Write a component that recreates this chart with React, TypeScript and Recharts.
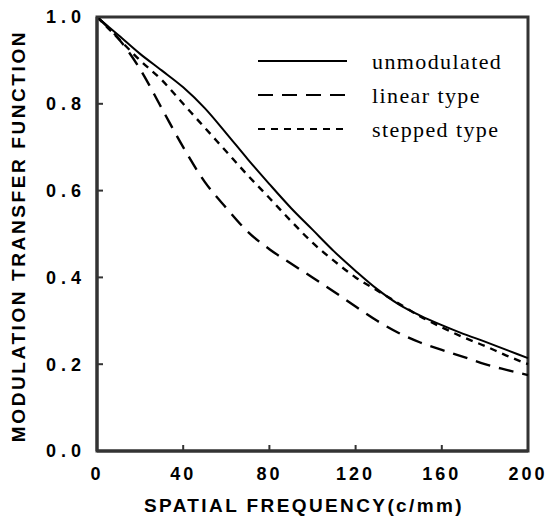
import { LineChart, Line, XAxis, YAxis, Legend, ReferenceArea } from 'recharts';

const freq = [0, 10, 20, 30, 40, 50, 60, 70, 80, 90, 100, 110, 120, 130, 140, 150, 160, 170, 180, 190, 200];
const unmodulated = [1.0, 0.958, 0.915, 0.877, 0.838, 0.79, 0.732, 0.672, 0.615, 0.56, 0.51, 0.46, 0.415, 0.373, 0.338, 0.312, 0.29, 0.27, 0.252, 0.233, 0.214];
const linearType = [1.0, 0.95, 0.88, 0.79, 0.7, 0.62, 0.56, 0.505, 0.465, 0.432, 0.4, 0.367, 0.333, 0.3, 0.272, 0.25, 0.233, 0.217, 0.2, 0.187, 0.175];
const steppedType = [1.0, 0.95, 0.9, 0.855, 0.8, 0.745, 0.69, 0.635, 0.583, 0.53, 0.48, 0.438, 0.4, 0.37, 0.34, 0.31, 0.285, 0.262, 0.242, 0.22, 0.2];

const xTicks = [0, 40, 80, 120, 160, 200];
const yTicks = [0, 0.2, 0.4, 0.6, 0.8, 1.0];

const xTitle = 'SPATIAL FREQUENCY(c/mm)';
const yTitle = 'MODULATION TRANSFER FUNCTION';

const seriesInfo = [
  { key: 'unmodulated', name: 'unmodulated', dash: undefined as string | undefined },
  { key: 'linear', name: 'linear type', dash: '15 9' },
  { key: 'stepped', name: 'stepped type', dash: '7 6' },
];

const data = freq.map((f, i) => ({
  f,
  unmodulated: unmodulated[i],
  linear: linearType[i],
  stepped: steppedType[i],
}));

// frame / tick colour: dark grey (pure black frame did not show up in earlier renders)
const INK = '#333';
const TICK = 6;
const X_GAP = 16;
const Y_GAP = 11;

const tickFont = {
  fontFamily: '"Liberation Sans", Arial, sans-serif',
  fontSize: 18,
  fontWeight: 'bold' as const,
  fill: '#000',
};

const titleFont = {
  fontFamily: '"Liberation Sans", Arial, sans-serif',
  fontSize: 19,
  fontWeight: 'bold' as const,
  fill: '#000',
};

// tick label plus the inward tick mark
const BottomTick = (props: any) => {
  const { x, y, payload } = props;
  const base = y - X_GAP;
  return (
    <g>
      <path d={`M${x},${base}L${x},${base - TICK}`} fill="none" stroke={INK} strokeWidth={2} />
      <text x={x} y={y} dy="0.71em" textAnchor="middle" {...tickFont} letterSpacing={3}>{String(payload.value)}</text>
    </g>
  );
};

const LeftTick = (props: any) => {
  const { x, y, payload } = props;
  const base = x + Y_GAP;
  return (
    <g>
      <path d={`M${base},${y}L${base + TICK},${y}`} fill="none" stroke={INK} strokeWidth={2} />
      <text x={x} y={y} dy="0.355em" textAnchor="end" {...tickFont} letterSpacing={5}>{Number(payload.value).toFixed(1)}</text>
    </g>
  );
};

const TopTick = (props: any) => {
  const { x, y } = props;
  return <path d={`M${x},${y}L${x},${y + TICK}`} fill="none" stroke={INK} strokeWidth={2} />;
};

const RightTick = (props: any) => {
  const { x, y } = props;
  return <path d={`M${x},${y}L${x - TICK},${y}`} fill="none" stroke={INK} strokeWidth={2} />;
};

const LegendBox = () => (
  <svg width={260} height={100}>
    {seriesInfo.map((s, i) => (
      <g key={s.key}>
        <line x1={0} x2={89} y1={12 + i * 34} y2={12 + i * 34} stroke="#000" strokeWidth={2} strokeDasharray={s.dash} />
        <text x={114} y={12 + i * 34} dy="0.35em" fontFamily='"Liberation Serif", "Times New Roman", serif' fontSize={22} letterSpacing={1.4} fill="#000">
          {s.name}
        </text>
      </g>
    ))}
  </svg>
);

export default function App() {
  return (
    <div style={{ position: 'absolute', left: 0, top: 0, background: '#fff' }}>
      <LineChart width={550} height={527} data={data} margin={{ top: 17, right: 22, left: 0, bottom: 0 }}>
        <XAxis
          dataKey="f"
          type="number"
          domain={[0, 200]}
          ticks={xTicks}
          height={76}
          axisLine={{ stroke: INK, strokeWidth: 3 }}
          tickLine={false}
          tickSize={0}
          tickMargin={X_GAP}
          tick={<BottomTick />}
        />
        <XAxis
          xAxisId="top"
          orientation="top"
          type="number"
          domain={[0, 200]}
          ticks={xTicks}
          height={0}
          axisLine={{ stroke: INK, strokeWidth: 3 }}
          tickLine={false}
          tickSize={0}
          tickMargin={0}
          tick={<TopTick />}
        />
        <YAxis
          type="number"
          domain={[0, 1]}
          ticks={yTicks}
          width={97}
          axisLine={{ stroke: INK, strokeWidth: 3 }}
          tickLine={false}
          tickSize={0}
          tickMargin={Y_GAP}
          tick={<LeftTick />}
        />
        <YAxis
          yAxisId="right"
          orientation="right"
          type="number"
          domain={[0, 1]}
          ticks={yTicks}
          width={0}
          axisLine={{ stroke: INK, strokeWidth: 3 }}
          tickLine={false}
          tickSize={0}
          tickMargin={0}
          tick={<RightTick />}
        />
        <ReferenceArea x1={0} x2={200} y1={0} y2={1} fill="none" stroke={INK} strokeWidth={3} />
        <text x={304} y={505} dy="0.35em" textAnchor="middle" {...titleFont} letterSpacing={2.4}>{xTitle}</text>
        <text x={18} y={236} dy="0.35em" textAnchor="middle" transform="rotate(-90 18 236)" {...titleFont} letterSpacing={2.6}>{yTitle}</text>
        <Legend layout="vertical" align="center" verticalAlign="middle" content={<LegendBox />} wrapperStyle={{ left: 258, top: 49, width: 260 }} />
        {seriesInfo.map((s) => (
          <Line
            key={s.key}
            dataKey={s.key}
            name={s.name}
            type="monotone"
            stroke="#000"
            strokeWidth={s.dash ? 2.4 : 2}
            strokeDasharray={s.dash}
            dot={false}
            isAnimationActive={false}
          />
        ))}
      </LineChart>
    </div>
  );
}
